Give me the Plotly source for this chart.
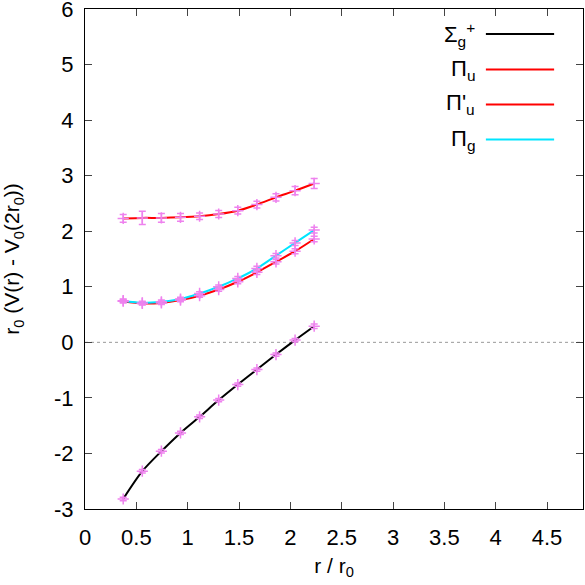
import plotly.graph_objects as go

# r / r0 for all four channels
r = [0.372, 0.558, 0.744, 0.930, 1.116, 1.302, 1.488, 1.674, 1.860, 2.046, 2.232]

sigma_g = [-2.82, -2.32, -1.96, -1.63, -1.34, -1.04, -0.76, -0.49, -0.22, 0.04, 0.29]
sigma_g_err = [0.03, 0.03, 0.03, 0.03, 0.03, 0.03, 0.03, 0.03, 0.03, 0.03, 0.04]

pi_u = [2.23, 2.24, 2.24, 2.25, 2.27, 2.31, 2.37, 2.48, 2.61, 2.73, 2.86]
pi_u_err = [0.07, 0.12, 0.08, 0.07, 0.06, 0.065, 0.06, 0.06, 0.065, 0.075, 0.09]

pi_u2 = [0.74, 0.70, 0.71, 0.76, 0.84, 0.95, 1.09, 1.26, 1.45, 1.64, 1.86]
pi_u2_err = [0.03, 0.03, 0.03, 0.03, 0.03, 0.03, 0.035, 0.04, 0.04, 0.045, 0.05]

pi_g = [0.75, 0.71, 0.73, 0.78, 0.88, 1.00, 1.15, 1.33, 1.56, 1.79, 2.02]
pi_g_err = [0.03, 0.03, 0.03, 0.03, 0.03, 0.03, 0.035, 0.04, 0.04, 0.045, 0.05]

x_ticks = [0, 0.5, 1, 1.5, 2, 2.5, 3, 3.5, 4, 4.5]
x_ticktext = ['0', '0.5', '1', '1.5', '2', '2.5', '3', '3.5', '4', '4.5']
y_ticks = [-3, -2, -1, 0, 1, 2, 3, 4, 5, 6]
y_ticktext = ['-3', '-2', '-1', '0', '1', '2', '3', '4', '5', '6']

labels = ['Σ<sub>g</sub><sup>+</sup>', 'Π<sub>u</sub>', "Π'<sub>u</sub>", 'Π<sub>g</sub>']
colors = ['black', '#ff0000', '#ff0000', '#00e5ff']
series = [(sigma_g, sigma_g_err), (pi_u, pi_u_err), (pi_u2, pi_u2_err), (pi_g, pi_g_err)]

violet = '#ee82ee'
font = 'Liberation Sans, Arial, sans-serif'

fig = go.Figure()
for (y, err), col in zip(series, colors):
    fig.add_trace(go.Scatter(
        x=r, y=y, mode='lines',
        line=dict(color=col, width=2, shape='spline', smoothing=0.8),
        showlegend=False, hoverinfo='skip'))
for (y, err), col in zip(series, colors):
    fig.add_trace(go.Scatter(
        x=r, y=y, mode='markers',
        marker=dict(symbol='cross-thin-open', size=8, color=violet,
                    line=dict(color=violet, width=1.5)),
        error_y=dict(type='data', array=err, visible=True, color=violet,
                     thickness=1.5, width=3.5),
        showlegend=False))

# gnuplot-like key in the top right corner
key_y = [0.95, 0.879, 0.809, 0.739]
shapes = [dict(type='line', xref='paper', yref='y', x0=0, x1=1, y0=0, y1=0,
               line=dict(color='#999999', width=1, dash='dot'), layer='below')]
annotations = []
for lab, col, ky in zip(labels, colors, key_y):
    shapes.append(dict(type='line', xref='paper', yref='paper', x0=0.805, x1=0.942,
                       y0=ky, y1=ky, line=dict(color=col, width=2)))
    annotations.append(dict(xref='paper', yref='paper', x=0.787, y=ky, text=lab,
                            showarrow=False, xanchor='right', yanchor='middle',
                            font=dict(family=font, size=22, color='black')))

axis = dict(showline=True, linecolor='black', linewidth=1, mirror='ticks',
            ticks='inside', ticklen=7, tickcolor='#444444', showgrid=False,
            zeroline=False, automargin=False, tickmode='array',
            ticklabeloverflow='allow',
            tickfont=dict(family=font, size=22, color='black'))

fig.update_layout(
    width=585, height=585,
    margin=dict(l=85, r=2, t=9, b=76),
    plot_bgcolor='white', paper_bgcolor='white',
    xaxis=dict(axis, range=[0, 4.85], tickvals=x_ticks, ticktext=x_ticktext,
               ticklabelstandoff=9,
               title=dict(text='r / r<sub>0</sub>', font=dict(family=font, size=21, color='black'),
                          standoff=8)),
    yaxis=dict(axis, range=[-3, 6.0001], tickvals=y_ticks, ticktext=y_ticktext,
               ticklabelstandoff=6,
               title=dict(text='r<sub>0</sub> (V(r) - V<sub>0</sub>(2r<sub>0</sub>))',
                          font=dict(family=font, size=21, color='black'), standoff=28)),
    shapes=shapes, annotations=annotations,
)

fig.write_html('out.html', config={'displayModeBar': False},
               post_script="document.body.style.margin='0px';")
